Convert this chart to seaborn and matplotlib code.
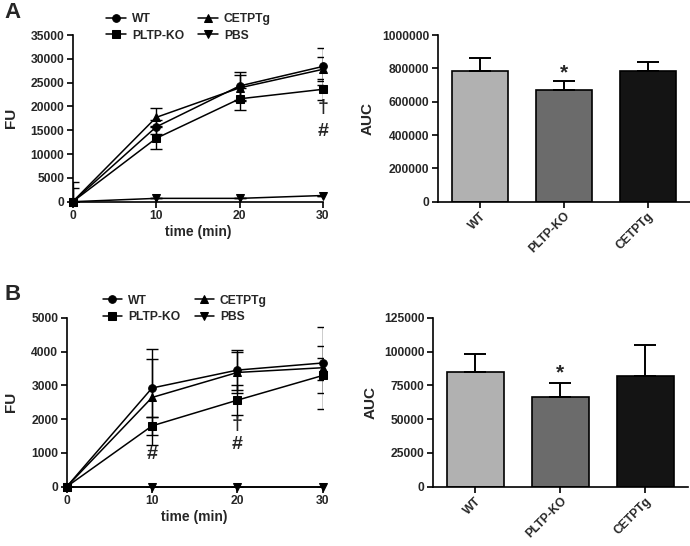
import matplotlib
matplotlib.use("Agg")
import matplotlib.pyplot as plt
from matplotlib.ticker import StrMethodFormatter
import seaborn as sns
import numpy as np
import pandas as pd

sns.set_theme(style="ticks")
plt.rcParams['font.family'] = ['Liberation Sans', 'DejaVu Sans']
plt.rcParams['font.weight'] = 'bold'
plt.rcParams['axes.labelweight'] = 'bold'

# ---------------- data ----------------
time = [0, 10, 20, 30]
groups = ["WT", "PLTP-KO", "CETPTg", "PBS"]
markers_map = {"WT": "o", "PLTP-KO": "s", "CETPTg": "^", "PBS": "v"}

# Panel A (FU)
a_wt = [0, 15700, 24300, 28400]
a_wt_err = [4100, 1500, 2900, 3900]
a_pltp = [0, 13300, 21600, 23600]
a_pltp_err = [0, 2300, 2300, 2200]
a_cetp = [0, 17700, 23900, 27800]
a_cetp_err = [2800, 1900, 2700, 2500]
a_pbs = [0, 700, 700, 1300]
a_pbs_err = [0, 0, 0, 0]

# Panel B (FU)
b_wt = [0, 2920, 3450, 3660]
b_wt_err = [0, 850, 590, 510]
b_pltp = [0, 1800, 2560, 3290]
b_pltp_err = [0, 270, 450, 530]
b_cetp = [0, 2640, 3380, 3520]
b_cetp_err = [0, 1420, 620, 1210]
b_pbs = [0, 0, 0, 0]
b_pbs_err = [0, 0, 0, 0]

bar_groups = ["WT", "PLTP-KO", "CETPTg"]
bar_colors = ["#b1b1b1", "#6b6b6b", "#141414"]
a_auc = [785000, 670000, 786000]
a_auc_err = [75000, 54000, 52000]
b_auc = [85000, 66300, 82000]
b_auc_err = [12900, 10200, 22500]

W, H = 690, 546
fig = plt.figure(figsize=(W / 100, H / 100), dpi=100)


def rect(l, r, t, b):
    return [l / W, 1 - b / H, (r - l) / W, (b - t) / H]


TICK_FS = 8.7
LABEL_FS = 11


def style_axis(ax):
    sns.despine(ax=ax)
    for s in ("left", "bottom"):
        ax.spines[s].set_linewidth(1.2)
        ax.spines[s].set_color("black")
    ax.tick_params(axis="both", direction="out", length=4, width=1.2,
                   color="black", labelsize=TICK_FS, pad=2)
    ax.yaxis.set_major_formatter(StrMethodFormatter("{x:.0f}"))
    for lab in ax.get_xticklabels() + ax.get_yticklabels():
        lab.set_fontweight("bold")


def line_panel(ax, series, errs, ymax, ystep, legend_anchor):
    rows = []
    for g in groups:
        for t, v in zip(time, series[g]):
            rows.append({"time": t, "FU": v, "group": g})
    df = pd.DataFrame(rows)
    sns.lineplot(data=df, x="time", y="FU", hue="group", style="group",
                 hue_order=groups, style_order=groups,
                 palette={g: "black" for g in groups},
                 markers=markers_map, dashes=False, markersize=5.5,
                 linewidth=1.1, markeredgecolor="black", legend=False, ax=ax,
                 errorbar=None)
    for ln in ax.lines:
        ln.set_clip_on(False)
        ln.set_zorder(4)
    for g in groups:
        ax.errorbar(time, series[g], yerr=errs[g], fmt="none", ecolor="black",
                    elinewidth=1.0, capsize=4, capthick=1.0, zorder=3)
    ax.set_xlim(0, 30)
    ax.set_ylim(0, ymax)
    ax.set_xticks([0, 10, 20, 30])
    ax.set_yticks(np.arange(0, ymax + 1, ystep))
    ax.set_xlabel("time (min)", fontsize=10, fontweight="bold", labelpad=2)
    ax.set_ylabel("FU", fontsize=LABEL_FS, fontweight="bold")
    style_axis(ax)
    handles = ax.lines[:4]
    leg = ax.legend(handles=handles, labels=groups, ncol=2, loc="lower left",
                    bbox_to_anchor=legend_anchor, frameon=False,
                    prop={"size": TICK_FS, "weight": "bold"},
                    handlelength=1.6, handletextpad=0.5, columnspacing=1.2,
                    labelspacing=0.35, borderaxespad=0, borderpad=0)
    return leg


def bar_panel(ax, vals, errs, ymax, ystep):
    df = pd.DataFrame({"group": bar_groups, "AUC": vals})
    sns.barplot(data=df, x="group", y="AUC", hue="group", order=bar_groups,
                hue_order=bar_groups, palette=bar_colors, width=0.667,
                edgecolor="black", linewidth=1.2, legend=False, ax=ax)
    ax.errorbar(range(3), vals, yerr=[np.zeros(3), errs], fmt="none",
                ecolor="black", elinewidth=1.4, capsize=8, capthick=1.4,
                zorder=3)
    ax.set_xlim(-0.5, 2.5)
    ax.set_ylim(0, ymax)
    ax.set_yticks(np.arange(0, ymax + 1, ystep))
    ax.set_xlabel("")
    ax.set_ylabel("AUC", fontsize=LABEL_FS, fontweight="bold")
    style_axis(ax)
    ax.set_xticks(range(3))
    ax.set_xticklabels(bar_groups, rotation=45, ha="right", va="top",
                       rotation_mode="anchor", fontsize=TICK_FS,
                       fontweight="bold")


ANN = dict(ha="center", va="center", fontsize=14, fontweight="bold")

# ---------- Panel A ----------
axA1 = fig.add_axes(rect(72.7, 323, 35, 201.7))
line_panel(axA1,
           {"WT": a_wt, "PLTP-KO": a_pltp, "CETPTg": a_cetp, "PBS": a_pbs},
           {"WT": a_wt_err, "PLTP-KO": a_pltp_err, "CETPTg": a_cetp_err,
            "PBS": a_pbs_err},
           35000, 5000, (0.135, 0.96))
axA1.yaxis.set_label_coords(-0.218, 0.5)
axA1.text(30, 19700, "†", **ANN)
axA1.text(30, 14800, "#", **ANN)

axA2 = fig.add_axes(rect(437.7, 689.7, 35, 201.7))
bar_panel(axA2, a_auc, a_auc_err, 1000000, 200000)
axA2.yaxis.set_label_coords(-0.249, 0.5)
axA2.text(1, 775000, "*", ha="center", va="center", fontsize=15,
          fontweight="bold")

# ---------- Panel B ----------
axB1 = fig.add_axes(rect(66.7, 322.7, 317.7, 486.7))
line_panel(axB1,
           {"WT": b_wt, "PLTP-KO": b_pltp, "CETPTg": b_cetp, "PBS": b_pbs},
           {"WT": b_wt_err, "PLTP-KO": b_pltp_err, "CETPTg": b_cetp_err,
            "PBS": b_pbs_err},
           5000, 1000, (0.14, 0.97))
axB1.yaxis.set_label_coords(-0.19, 0.5)
axB1.text(10, 960, "#", **ANN)
axB1.text(20, 1850, "†", **ANN)
axB1.text(20, 1250, "#", **ANN)

axB2 = fig.add_axes(rect(432.7, 688, 317.7, 486.7))
bar_panel(axB2, b_auc, b_auc_err, 125000, 25000)
axB2.yaxis.set_label_coords(-0.214, 0.5)
axB2.text(1, 84500, "*", ha="center", va="center", fontsize=15,
          fontweight="bold")

fig.text(4 / W, 1 - 12.5 / H, "A", fontsize=16, fontweight="bold",
         ha="left", va="center")
fig.text(4 / W, 1 - 295 / H, "B", fontsize=16, fontweight="bold",
         ha="left", va="center")

fig.savefig("out.png", dpi=100, facecolor="white")
